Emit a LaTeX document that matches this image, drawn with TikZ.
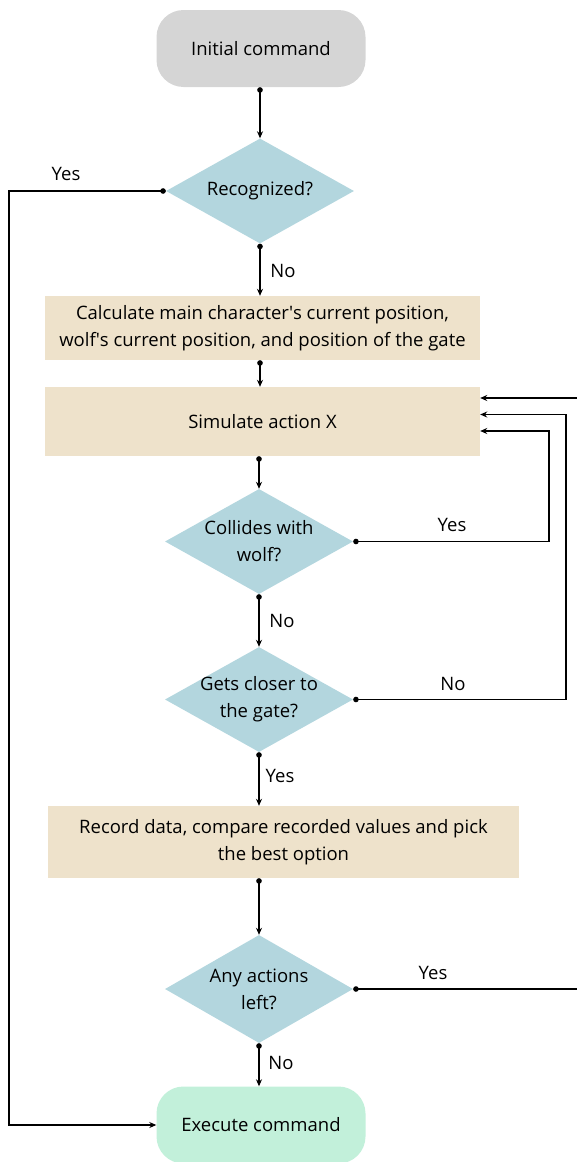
\documentclass[tikz,border=0pt]{standalone}
\usepackage{fontspec}
\setmainfont{Open Sans}
\usetikzlibrary{arrows.meta,shapes.geometric}
\definecolor{termgray}{HTML}{D5D5D5}
\definecolor{termgreen}{HTML}{C2F0DA}
\definecolor{decblue}{HTML}{B3D6DE}
\definecolor{proctan}{HTML}{EEE2CB}
\begin{document}
\begin{tikzpicture}[x=1pt,y=-1pt,
  font=\fontsize{18.5}{27}\selectfont,
  terminal/.style={rounded corners=27pt, minimum width=209pt, minimum height=77pt, inner sep=0pt},
  decision/.style={diamond, aspect=1.79, fill=decblue, minimum width=188pt, minimum height=105pt, inner sep=0pt, align=center},
  process/.style={fill=proctan, inner sep=0pt, align=center},
  flow/.style={line width=1.3pt, {Circle[length=5.5pt]}-{Stealth[length=7pt,width=6pt]}},
  lbl/.style={inner sep=0pt}]
\useasboundingbox (0,0) rectangle (577,1162);

% nodes
\node[terminal, fill=termgray] (init) at (261,48.5) {Initial command};
\node[decision] (recog) at (260,191) {Recognized?};
\node[process, minimum width=435pt, minimum height=64pt] (calc) at (262.5,328)
  {Calculate main character\textquotesingle s current position,\\wolf\textquotesingle s current position, and position of the gate};
\node[process, minimum width=435pt, minimum height=69pt] (sim) at (262.5,421.5) {Simulate action X};
\node[decision] (coll) at (259,541.5) {Collides with\\wolf?};
\node[decision, inner xsep=-6pt] (closer) at (259,699.5) {Gets closer to\\the gate?};
\node[process, minimum width=471pt, minimum height=72pt] (rec) at (283.5,842)
  {Record data, compare recorded values and pick\\the best option};
\node[decision, minimum height=108pt] (any) at (259,989) {Any actions\\left?};
\node[terminal, fill=termgreen] (exec) at (261,1125) {Execute command};

% routing points
\coordinate (lft) at (9,0);
\coordinate (r1) at (549,431);
\coordinate (r2) at (566,414.5);
\coordinate (r3) at (584,398);

% connectors
\draw[flow] (init.south -| recog.north) -- (recog.north);
\draw[flow] (recog.south) -- (recog.south |- calc.north);
\draw[flow] (recog.west) -- (recog.west -| lft) |- (exec.west);
\draw[flow] (recog.south |- calc.south) -- (recog.south |- sim.north);
\draw[flow] (coll.north |- sim.south) -- (coll.north);
\draw[flow] (coll.east) -| (r1) -- (r1 -| sim.east);
\draw[flow] (coll.south) -- (closer.north);
\draw[flow] (closer.east) -| (r2) -- (r2 -| sim.east);
\draw[flow] (closer.south) -- (closer.south |- rec.north);
\draw[flow] (any.north |- rec.south) -- (any.north);
\draw[flow] (any.east) -| (r3) -- (r3 -| sim.east);
\draw[flow] (any.south) -- (any.south |- exec.north);

% labels
\node[lbl] (l1) at (66,174) {Yes};
\node[lbl] (l2) at (283,271) {No};
\node[lbl] (l3) at (452,525) {Yes};
\node[lbl] (l4) at (282,621) {No};
\node[lbl] (l5) at (453,684) {No};
\node[lbl] (l6) at (280,776) {Yes};
\node[lbl] (l7) at (433,973) {Yes};
\node[lbl] (l8) at (281,1063) {No};
\end{tikzpicture}
\end{document}
